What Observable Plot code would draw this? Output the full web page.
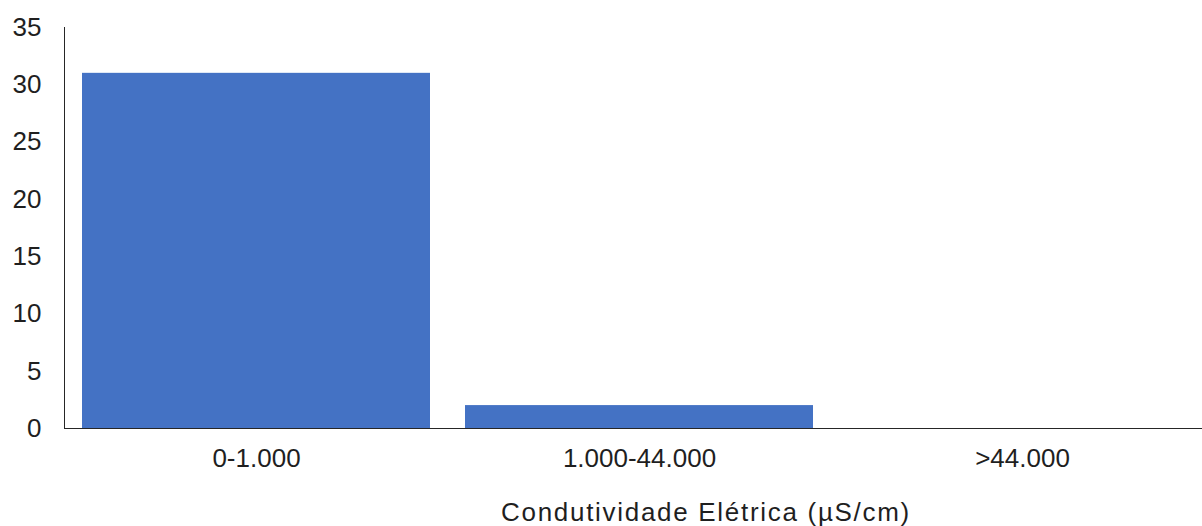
<!DOCTYPE html>
<html>
<head>
<meta charset="utf-8">
<script src="https://cdn.jsdelivr.net/npm/d3@7"></script>
<script src="https://cdn.jsdelivr.net/npm/@observablehq/plot@0.6"></script>
<style>
  html, body { margin: 0; padding: 0; background: #fff; overflow: hidden; }
  #chart { width: 1202px; height: 526px; overflow: hidden; }
  #chart svg { max-width: none !important; }
</style>
</head>
<body>
<div id="chart"></div>
<script>
const categories = ["0-1.000", "1.000-44.000", ">44.000"];
const counts = [31, 2, 0];
const yTicks = [0, 5, 10, 15, 20, 25, 30, 35];
const xLabel = "Condutividade Elétrica (µS/cm)";

const data = categories.map((c, i) => ({category: c, count: counts[i]}));

const chart = Plot.plot({
  width: 1213,
  height: 526,
  marginLeft: 64,
  marginRight: 0,
  marginTop: 27,
  marginBottom: 98,
  style: {fontFamily: "'Liberation Sans', Arial, sans-serif", fontSize: "26px", color: "#1f1f1f", background: "#fff", overflow: "visible", maxWidth: "none"},
  x: {domain: categories, paddingInner: 0.0914, paddingOuter: 0.0457},
  y: {domain: [0, 35]},
  marks: [
    Plot.barY(data, {x: "category", y: "count", fill: "#4472C4"}),
    Plot.frame({anchor: "left", stroke: "#262626", strokeOpacity: 1}),
    Plot.ruleY([0], {stroke: "#262626"}),
    Plot.axisY({ticks: yTicks, tickSize: 0, tickPadding: 23, label: null, fontSize: 26}),
    Plot.axisX({tickSize: 0, tickPadding: 20, fontSize: 26, label: null}),
    Plot.text([xLabel], {frameAnchor: "bottom", dx: 67, dy: 84, lineAnchor: "middle", textAnchor: "middle", fontSize: 26, fill: "#1f1f1f"})
  ]
});
chart.querySelectorAll("text").forEach(t => {
  if (t.textContent === xLabel) t.style.letterSpacing = "1.7px";
});
document.getElementById("chart").appendChild(chart);
</script>
</body>
</html>
